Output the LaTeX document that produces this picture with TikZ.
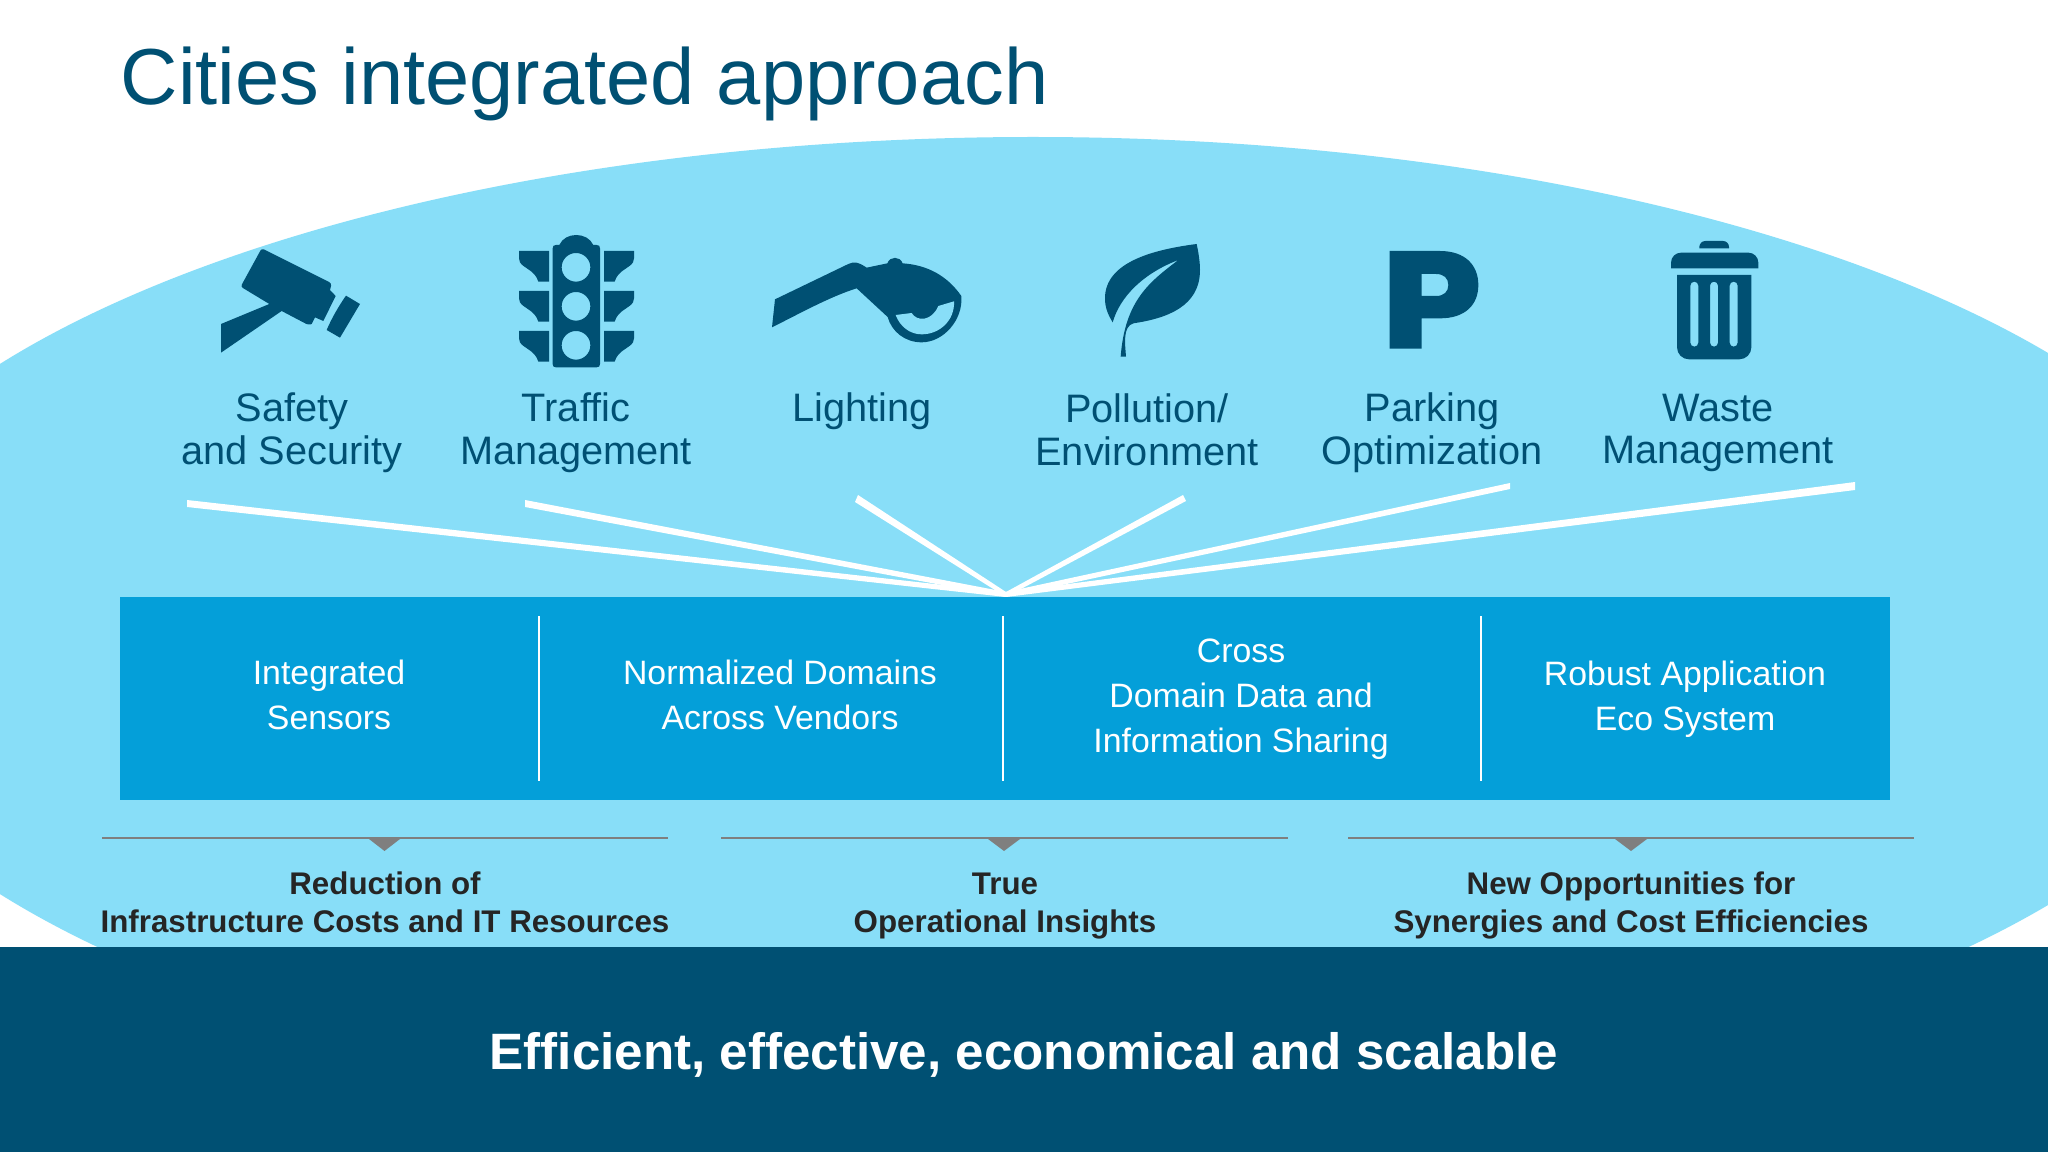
\documentclass[tikz,border=0pt]{standalone}
\usepackage{fontspec}
\setmainfont{Liberation Sans}
\definecolor{skyblue}{HTML}{88DEF8}
\definecolor{midblue}{HTML}{049FD9}
\definecolor{deepblue}{HTML}{005073}
\definecolor{barGrey}{HTML}{7F7F7F}
\definecolor{inkdark}{HTML}{252525}
\tikzset{
  icon/.style={fill=deepblue,draw=none},
  iconcut/.style={fill=deepblue,draw=none,even odd rule},
  toplabel/.style={align=center,inner sep=0pt,text=deepblue,font=\fontsize{11.3}{12.2}\selectfont},
  boxlabel/.style={align=center,inner sep=0pt,text=white,font=\fontsize{9.62}{12.8}\selectfont},
  gainlabel/.style={align=center,inner sep=0pt,text=inkdark,font=\fontsize{8.9}{10.8}\selectfont\bfseries},
  fanline/.style={fill=white,draw=none},
  divider/.style={draw=white,line width=0.55pt},
  gainbar/.style={draw=barGrey,line width=0.7pt},
  gaintip/.style={fill=barGrey,draw=none}
}
\begin{document}
\begin{tikzpicture}[x=0.01cm,y=-0.01cm]
\useasboundingbox (0,0) rectangle (2048,1152);
\begin{scope}
\clip (0,0) rectangle (2048,1152);
\path[fill=white] (0,0) rectangle (2048,1152);
\path[fill=skyblue] (1033,629) ellipse [x radius=1226,y radius=492];
\end{scope}

\node[anchor=west,inner sep=0pt,text=deepblue,font=\fontsize{22.6}{26}\selectfont] (title) at (120,84) {Cities integrated approach};

\begin{scope}[shift={(190,220)},scale=1/3]
\path[icon,rounded corners=0.25mm] (215,85) -- (425,190) [sharp corners] -- (420,210) -- (437,228) -- (400,303) -- (375,292) -- (365,312) [rounded corners=0.25mm] -- (355,315) [sharp corners] -- (275,273) -- (93,398) -- (93,312) -- (238,252) [rounded corners=0.25mm] -- (152,200) -- cycle;
\path[icon] (468,227) -- (510,252) -- (450,353) -- (410,330) .. controls (425,295) and (445,260) .. cycle;
\path[iconcut] (1098,75) -- (1108,75) .. controls (1125,35) and (1192,35) .. (1210,75) -- (1220,75) .. controls (1227,75) and (1230,78) .. (1230,85) -- (1230,432) .. controls (1230,439) and (1227,442) .. (1220,442) -- (1098,442) .. controls (1091,442) and (1088,439) .. (1088,432) -- (1088,85) .. controls (1088,78) and (1091,75) .. (1098,75) -- cycle
  (1158,142) circle [radius=43] (1158,259) circle [radius=43] (1158,376) circle [radius=43];
\path[icon] (987,93) -- (1077,93) -- (1077,185) -- (1045,185) .. controls (1035,150) and (1000,145) .. (990,127) -- (987,115) -- cycle;
\path[icon] (987,213) -- (1077,213) -- (1077,305) -- (1045,305) .. controls (1035,270) and (1000,265) .. (990,247) -- (987,235) -- cycle;
\path[icon] (987,333) -- (1077,333) -- (1077,425) -- (1045,425) .. controls (1035,390) and (1000,385) .. (990,367) -- (987,355) -- cycle;
\path[icon] (1332,93) -- (1242,93) -- (1242,185) -- (1274,185) .. controls (1284,150) and (1319,145) .. (1329,127) -- (1332,115) -- cycle;
\path[icon] (1332,213) -- (1242,213) -- (1242,305) -- (1274,305) .. controls (1284,270) and (1319,265) .. (1329,247) -- (1332,235) -- cycle;
\path[icon] (1332,333) -- (1242,333) -- (1242,425) -- (1274,425) .. controls (1284,390) and (1319,385) .. (1329,367) -- (1332,355) -- cycle;
\end{scope}

\begin{scope}[shift={(750,220)},scale=1/3]
\path[icon] (75,238) -- (295,132) .. controls (312,124) and (325,126) .. (350,143) -- (412,130) .. controls (420,108) and (450,108) .. (458,130) .. controls (530,135) and (590,165) .. (634,228) .. controls (640,300) and (580,367) .. (515,367) .. controls (465,367) and (425,335) .. (413,291) -- (320,205) .. controls (240,230) and (150,280) .. (66,322) -- cycle;
\path[fill=skyblue] (437,285) -- (485,279) .. controls (500,305) and (545,305) .. (565,258) -- (612,244) .. controls (615,300) and (570,343) .. (515,343) .. controls (480,343) and (450,320) .. (437,285) -- cycle;
\path[icon] (1340,72) .. controls (1200,90) and (1065,130) .. (1065,235) .. controls (1065,265) and (1075,285) .. (1088,307) .. controls (1110,230) and (1180,160) .. (1285,120) .. controls (1200,185) and (1125,240) .. (1112,410) -- (1128,410) .. controls (1125,370) and (1118,320) .. (1150,310) .. controls (1250,295) and (1350,260) .. (1350,150) .. controls (1350,125) and (1345,95) .. (1340,72) -- cycle;
\end{scope}

\begin{scope}[shift={(1350,220)},scale=1/3]
\path[iconcut] (119,93) -- (270,93) .. controls (345,93) and (385,135) .. (385,195) .. controls (385,255) and (345,295) .. (270,295) -- (215,295) -- (215,386) -- (119,386) -- cycle
  (215,162) -- (258,162) .. controls (282,162) and (295,175) .. (295,195) .. controls (295,215) and (282,228) .. (258,228) -- (215,228) -- cycle;
\path[icon,rounded corners=0.6mm] (1048,85) -- (1048,63) -- (1137,63) [sharp corners] -- (1137,85) -- cycle;
\path[icon,rounded corners=1mm] (963,145) -- (963,98) -- (1225,98) [sharp corners] -- (1225,145) -- cycle;
\path[iconcut,rounded corners=1.2mm] (981,165) [sharp corners] -- (1204,165) [rounded corners=1.2mm] -- (1204,418) -- (981,418) [sharp corners] -- cycle
  [rounded corners=0.4mm] (1021,185) rectangle (1045,380) (1080,185) rectangle (1104,380) (1139,185) rectangle (1163,380);
\end{scope}

\node[toplabel] (safety) at (292,433) {Safety\\and Security};
\node[toplabel] (traffic) at (576,433) {Traffic\\Management};
\node[toplabel,anchor=north] (lighting) at (862,392) {Lighting};
\node[toplabel] (pollution) at (1147,430) {Pollution/\\Environment};
\node[toplabel] (parking) at (1432,433) {Parking\\Optimization};
\node[toplabel] (waste) at (1718,433) {Waste\\Management};

\coordinate (apex) at (1006,597);
\coordinate (apexTop) at (1006,592);
\coordinate (fanAa) at (187,500);
\coordinate (fanAb) at (187,507);
\coordinate (fanBa) at (525,500);
\coordinate (fanBb) at (525,507);
\coordinate (fanCa) at (858,495);
\coordinate (fanCb) at (855,502);
\coordinate (fanDa) at (1183,495);
\coordinate (fanDb) at (1186,501);
\coordinate (fanEa) at (1510,483);
\coordinate (fanEb) at (1510,489);
\coordinate (fanFa) at (1855,482);
\coordinate (fanFb) at (1855,490);
\path[fanline] (apex) -- (apexTop) -- (fanAa) -- (fanAb) -- cycle;
\path[fanline] (apex) -- (apexTop) -- (fanBa) -- (fanBb) -- cycle;
\path[fanline] (apex) -- (apexTop) -- (fanCa) -- (fanCb) -- cycle;
\path[fanline] (apex) -- (apexTop) -- (fanDa) -- (fanDb) -- cycle;
\path[fanline] (apex) -- (apexTop) -- (fanEa) -- (fanEb) -- cycle;
\path[fanline] (apex) -- (apexTop) -- (fanFa) -- (fanFb) -- cycle;

\node[fill=midblue,inner sep=0pt,minimum width=17.68cm,minimum height=2.03cm] (panel) at (1005,698.5) {};
\node[boxlabel] (sensors) at (329,695) {Integrated\\Sensors};
\node[boxlabel] (domains) at (780,695) {Normalized Domains\\Across Vendors};
\node[boxlabel] (sharing) at (1241,699) {Cross\\Domain Data and\\Information Sharing};
\node[boxlabel] (appsys) at (1685,699) {Robust Application\\Eco System};

\coordinate (divAt) at (539,616);
\coordinate (divAb) at (539,781);
\coordinate (divBt) at (1003,616);
\coordinate (divBb) at (1003,781);
\coordinate (divCt) at (1481,616);
\coordinate (divCb) at (1481,781);
\path[divider] (divAt) -- (divAb);
\path[divider] (divBt) -- (divBb);
\path[divider] (divCt) -- (divCb);

\coordinate (barAl) at (102,838);
\coordinate (barAr) at (668,838);
\coordinate (barBl) at (721,838);
\coordinate (barBr) at (1288,838);
\coordinate (barCl) at (1348,838);
\coordinate (barCr) at (1914,838);
\path[gainbar] (barAl) -- (barAr);
\path[gainbar] (barBl) -- (barBr);
\path[gainbar] (barCl) -- (barCr);
\path[gaintip] (369,839) -- (400,839) -- (384.5,851) -- cycle;
\path[gaintip] (988,839) -- (1020,839) -- (1004,851) -- cycle;
\path[gaintip] (1615,839) -- (1647,839) -- (1631,851) -- cycle;

\node[gainlabel] (reduction) at (385,902) {Reduction of\\Infrastructure Costs and IT Resources};
\node[gainlabel] (insights) at (1005,906) {True\\Operational Insights};
\node[gainlabel] (synergies) at (1631,905) {New Opportunities for\\Synergies and Cost Efficiencies};

\path[fill=deepblue] (0,947) rectangle (2048,1152);
\node[inner sep=0pt,text=white,font=\fontsize{14.54}{17}\selectfont\bfseries] (motto) at (1024,1055) {Efficient, effective, economical and scalable};
\end{tikzpicture}
\end{document}
